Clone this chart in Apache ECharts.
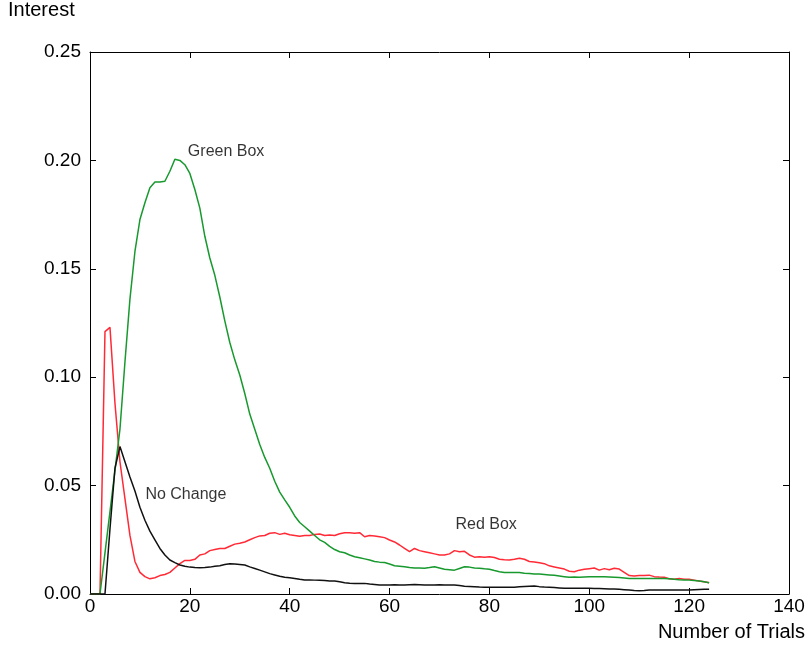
<!DOCTYPE html>
<html>
<head>
<meta charset="utf-8">
<script src="https://cdn.jsdelivr.net/npm/echarts@6/dist/echarts.min.js"></script>
<style>html,body{margin:0;padding:0;background:#fff;}#c{width:808px;height:650px;}</style>
</head>
<body>
<div id="c"></div>
<script>
var trials = [];
for (var i = 0; i <= 124; i++) trials.push(i);

var redBox = [0,0,0,0.121,0.123,0.088,0.061,0.044,0.027,0.015,
0.010,0.008,0.007,0.0075,0.0085,0.009,0.010,0.012,0.014,0.0155,
0.0155,0.016,0.018,0.0185,0.020,0.0205,0.021,0.021,0.022,0.023,
0.0234,0.024,0.025,0.026,0.0268,0.027,0.028,0.0283,0.0275,0.028,
0.0273,0.027,0.0266,0.027,0.027,0.0275,0.0277,0.027,0.0272,0.027,
0.0278,0.0283,0.0282,0.028,0.0283,0.0264,0.027,0.0268,0.0264,0.026,
0.0249,0.024,0.0226,0.021,0.0195,0.021,0.020,0.0195,0.019,0.0185,
0.018,0.018,0.0185,0.020,0.0195,0.0197,0.018,0.017,0.0172,0.017,
0.0172,0.0168,0.016,0.0158,0.0157,0.016,0.0165,0.016,0.015,0.0148,
0.0144,0.014,0.013,0.0125,0.012,0.0115,0.0105,0.0103,0.011,0.0114,
0.0117,0.012,0.011,0.0117,0.0112,0.0119,0.0115,0.010,0.0085,0.0083,
0.0085,0.0085,0.0087,0.008,0.0078,0.0077,0.007,0.0068,0.0072,0.0068,
0.0068,0.0064,0.006,0.0056,0.0052];

var greenBox = [0,0,0,0.019,0.038,0.057,0.076,0.107,0.136,0.158,
0.1727,0.1805,0.1874,0.19,0.19,0.1904,0.195,0.2005,0.200,0.198,
0.194,0.1866,0.178,0.165,0.155,0.147,0.137,0.126,0.116,0.108,
0.101,0.0925,0.083,0.076,0.069,0.063,0.058,0.052,0.047,0.0434,
0.040,0.036,0.033,0.031,0.029,0.027,0.025,0.0238,0.022,0.0205,
0.0195,0.019,0.018,0.0172,0.0167,0.0162,0.0157,0.015,0.0147,0.0145,
0.0138,0.013,0.0128,0.0126,0.0122,0.012,0.012,0.0119,0.0122,0.0126,
0.012,0.0114,0.0112,0.011,0.0118,0.0126,0.0124,0.012,0.0119,0.0116,
0.0114,0.0108,0.0103,0.0099,0.0099,0.0099,0.0099,0.0096,0.0094,0.0092,
0.0092,0.009,0.0088,0.0086,0.0083,0.008,0.0077,0.0078,0.0077,0.0078,
0.0079,0.008,0.008,0.0079,0.0078,0.0077,0.0076,0.0074,0.0072,0.0072,
0.0072,0.0072,0.0072,0.0071,0.0071,0.0071,0.007,0.0068,0.0066,0.0065,
0.0064,0.0062,0.006,0.0056,0.0052];

var noChange = [0,0,0,0,0.030,0.058,0.068,0.061,0.054,0.0475,
0.040,0.034,0.029,0.025,0.021,0.018,0.0157,0.0145,0.0134,0.0128,
0.0124,0.0122,0.0121,0.0122,0.0124,0.0128,0.013,0.0136,0.014,0.0138,
0.0136,0.0134,0.0125,0.0118,0.011,0.0102,0.0094,0.0088,0.0082,0.0077,
0.0075,0.0072,0.0068,0.0065,0.0065,0.0064,0.0063,0.0062,0.006,0.006,
0.0056,0.0052,0.005,0.0049,0.0049,0.0049,0.0046,0.0044,0.0042,0.0042,
0.0042,0.0043,0.0042,0.0042,0.0043,0.0044,0.0043,0.0042,0.0042,0.0042,
0.0043,0.0042,0.0042,0.0041,0.0039,0.0036,0.0035,0.0034,0.0032,0.0031,
0.0031,0.0031,0.0031,0.0031,0.0031,0.0031,0.0033,0.0035,0.0036,0.0037,
0.0034,0.0032,0.0031,0.003,0.0028,0.0026,0.0026,0.0026,0.0026,0.0026,
0.0026,0.0025,0.0025,0.0024,0.0023,0.0023,0.0022,0.002,0.0018,0.0016,
0.0015,0.0016,0.0018,0.0019,0.0019,0.0019,0.0019,0.0019,0.0019,0.0019,
0.0019,0.002,0.0021,0.0022,0.0022];

var xTicks = [0, 20, 40, 60, 80, 100, 120, 140];
var yTicks = [0.00, 0.05, 0.10, 0.15, 0.20, 0.25];

var labels = [
  {name: 'Green Box', x: 19.6, y: 0.204},
  {name: 'No Change', x: 11.1, y: 0.046},
  {name: 'Red Box', x: 73.2, y: 0.032}
];

function pairs(arr) { return trials.map(function (t, i) { return [t, arr[i]]; }); }

var FONT = '"Liberation Sans", Arial, sans-serif';
var chart = echarts.init(document.getElementById('c'), null, {renderer: 'canvas'});

function axisLineCfg() { return {show: true, onZero: false, lineStyle: {color: '#000', width: 1}}; }
function tickCfg() { return {show: true, inside: true, length: 6, lineStyle: {color: '#000'}}; }

var xCommon = {
  type: 'value', min: xTicks[0], max: xTicks[xTicks.length - 1], interval: 20,
  splitLine: {show: false}
};
var yCommon = {
  type: 'value', min: yTicks[0], max: yTicks[yTicks.length - 1], interval: 0.05,
  splitLine: {show: false}
};

function lineSeries(name, data, color) {
  return {
    name: name, type: 'line', data: pairs(data), showSymbol: false, symbol: 'none',
    xAxisIndex: 0, yAxisIndex: 0,
    lineStyle: {color: color, width: 1.5}, itemStyle: {color: color},
    animation: false, z: 3
  };
}

chart.setOption({
  animation: false,
  backgroundColor: '#fff',
  grid: {left: 90, right: 19, top: 52, bottom: 56, containLabel: false},
  xAxis: [
    Object.assign({}, xCommon, {position: 'bottom', axisLine: axisLineCfg(), axisTick: tickCfg(),
      axisLabel: {show: true, color: '#000', fontSize: 19, fontFamily: FONT, margin: 3}}),
    Object.assign({}, xCommon, {position: 'top', axisLine: axisLineCfg(), axisTick: tickCfg(),
      axisLabel: {show: false}})
  ],
  yAxis: [
    Object.assign({}, yCommon, {position: 'left', axisLine: axisLineCfg(), axisTick: tickCfg(),
      axisLabel: {show: true, color: '#000', fontSize: 19, fontFamily: FONT, margin: 9,
        formatter: function (v) { return v.toFixed(2); }}}),
    Object.assign({}, yCommon, {position: 'right', axisLine: axisLineCfg(), axisTick: tickCfg(),
      axisLabel: {show: false}})
  ],
  series: [
    lineSeries('Red Box', redBox, '#ff2a36'),
    lineSeries('Green Box', greenBox, '#17992e'),
    lineSeries('No Change', noChange, '#111111'),
    {
      type: 'scatter', xAxisIndex: 0, yAxisIndex: 0, symbolSize: 0, silent: true,
      data: labels.map(function (l) { return {value: [l.x, l.y], name: l.name}; }),
      label: {show: true, position: 'right', distance: 0, formatter: '{b}',
        color: '#000', fontSize: 16, fontFamily: FONT}
    }
  ],
  graphic: [
    {type: 'text', left: 8, top: 0, style: {text: 'Interest', fill: '#000', fontSize: 20, fontFamily: FONT}},
    {type: 'text', right: 3, top: 622, style: {text: 'Number of Trials', fill: '#000', fontSize: 20, fontFamily: FONT}}
  ]
});
</script>
</body>
</html>
